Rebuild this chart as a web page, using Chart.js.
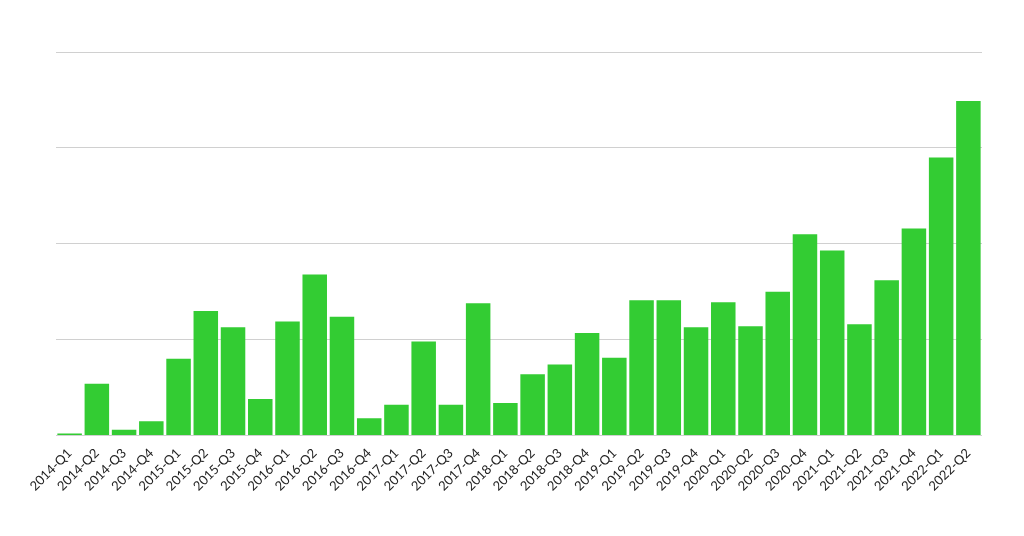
<!DOCTYPE html>
<html><head><meta charset="utf-8">
<script src="https://cdn.jsdelivr.net/npm/chart.js@4/dist/chart.umd.min.js"></script>
<style>html,body{margin:0;padding:0;background:#fff}</style>
</head><body>
<canvas id="c" width="1024" height="536"></canvas>
<script>
const categories = ["2014-Q1","2014-Q2","2014-Q3","2014-Q4","2015-Q1","2015-Q2","2015-Q3","2015-Q4","2016-Q1","2016-Q2","2016-Q3","2016-Q4","2017-Q1","2017-Q2","2017-Q3","2017-Q4","2018-Q1","2018-Q2","2018-Q3","2018-Q4","2019-Q1","2019-Q2","2019-Q3","2019-Q4","2020-Q1","2020-Q2","2020-Q3","2020-Q4","2021-Q1","2021-Q2","2021-Q3","2021-Q4","2022-Q1","2022-Q2"];
const values = [0.02,0.54,0.06,0.15,0.80,1.30,1.13,0.38,1.19,1.68,1.24,0.18,0.32,0.98,0.32,1.38,0.34,0.64,0.74,1.07,0.81,1.41,1.41,1.13,1.39,1.14,1.50,2.10,1.93,1.16,1.62,2.16,2.90,3.49];
new Chart(document.getElementById('c'), {
  type: 'bar',
  data: { labels: categories, datasets: [{ data: values, backgroundColor: '#33cc33', barPercentage: 0.9, categoryPercentage: 1.0 }] },
  options: {
    responsive: false, animation: false,
    layout: { padding: { left: 56, right: 42, top: 52, bottom: 40 } },
    plugins: { legend: { display: false }, tooltip: { enabled: false } },
    scales: {
      x: { grid: { display: false }, border: { display: false },
           ticks: { color: '#222', font: { family: 'Lato', size: 13 }, maxRotation: 45, minRotation: 45, padding: 2 } },
      y: { min: 0, max: 4, ticks: { display: false, stepSize: 1 }, border: { display: false },
           grid: { color: '#d0d0d0', drawTicks: false } }
    }
  }
});
</script>
</body></html>
